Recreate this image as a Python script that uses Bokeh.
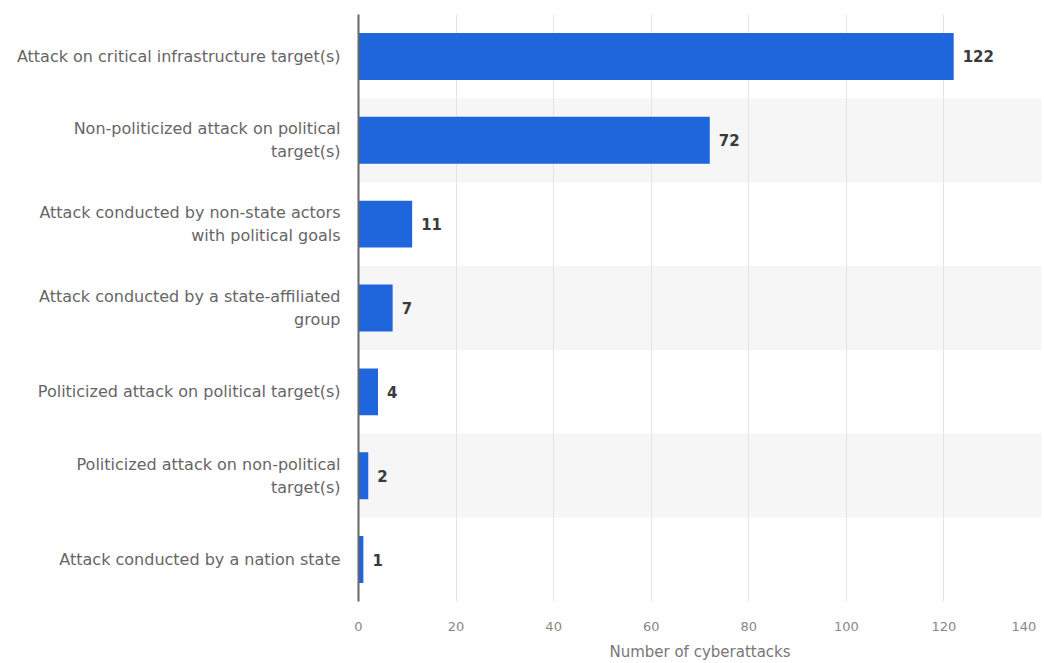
from bokeh.plotting import figure
from bokeh.models import FactorRange, ColumnDataSource, Range1d, FixedTicker
from bokeh.core.properties import value
from bokeh.embed import file_html
from bokeh.resources import INLINE

categories = [
    "Attack on critical infrastructure target(s)",
    "Non-politicized attack on political\ntarget(s)",
    "Attack conducted by non-state actors\nwith political goals",
    "Attack conducted by a state-affiliated\ngroup",
    "Politicized attack on political target(s)",
    "Politicized attack on non-political\ntarget(s)",
    "Attack conducted by a nation state",
]
values = [122, 72, 11, 7, 4, 2, 1]
x_ticks = [0, 20, 40, 60, 80, 100, 120, 140]
x_max = 140
axis_title = "Number of cyberattacks"

FONT = "DejaVu Sans"

p = figure(
    width=1044, height=663,
    y_range=FactorRange(*reversed(categories)),
    x_range=Range1d(0, x_max),
    output_backend="svg", toolbar_location=None,
    min_border_left=358, min_border_right=3,
    min_border_top=14, min_border_bottom=61,
)
p.outline_line_color = None
p.background_fill_color = "white"
p.border_fill_color = "white"

# alternating bands
band_cats = categories[1::2]
band_src = ColumnDataSource(dict(y=band_cats, left=[0] * len(band_cats), right=[x_max] * len(band_cats)))
br = p.hbar(y="y", left="left", right="right", height=1.0, source=band_src,
            fill_color="#f6f6f6", line_color=None)
br.level = "image"

src = ColumnDataSource(dict(y=categories, v=values, lbl=[str(v) for v in values]))
p.hbar(y="y", left=0, right="v", height=0.56, source=src,
       fill_color="#1f66dd", line_color=None)
p.text(x="v", y="y", text="lbl", source=src, x_offset=9,
       text_baseline="middle", text_align="left",
       text_font=value(FONT), text_font_size="15px", text_font_style="bold",
       text_color="#3a3a3a")

# grids
p.ygrid.grid_line_color = None
p.xgrid.grid_line_color = "#e4e4e4"
p.xgrid.grid_line_width = 1
p.xaxis.ticker = FixedTicker(ticks=x_ticks)

# x axis
xa = p.xaxis[0]
xa.axis_line_color = None
xa.major_tick_line_color = None
xa.minor_tick_line_color = None
xa.major_label_text_color = "#888888"
xa.major_label_text_font = FONT
xa.major_label_text_font_size = "13px"
xa.major_label_standoff = 11
xa.major_label_overrides = {140: "140" + "\u00a0" * 2}
xa.axis_label = axis_title
xa.axis_label_text_font = FONT
xa.axis_label_text_font_size = "15px"
xa.axis_label_text_font_style = "normal"
xa.axis_label_text_color = "#777777"
xa.axis_label_standoff = 6

# y axis
ya = p.yaxis[0]
ya.axis_line_color = "#666666"
ya.axis_line_width = 2
ya.major_tick_line_color = None
ya.minor_tick_line_color = None
ya.major_label_text_color = "#666666"
ya.major_label_text_font = FONT
ya.major_label_text_font_size = "16px"
ya.major_label_standoff = 12

open("out.html", "w").write(file_html(p, INLINE))
